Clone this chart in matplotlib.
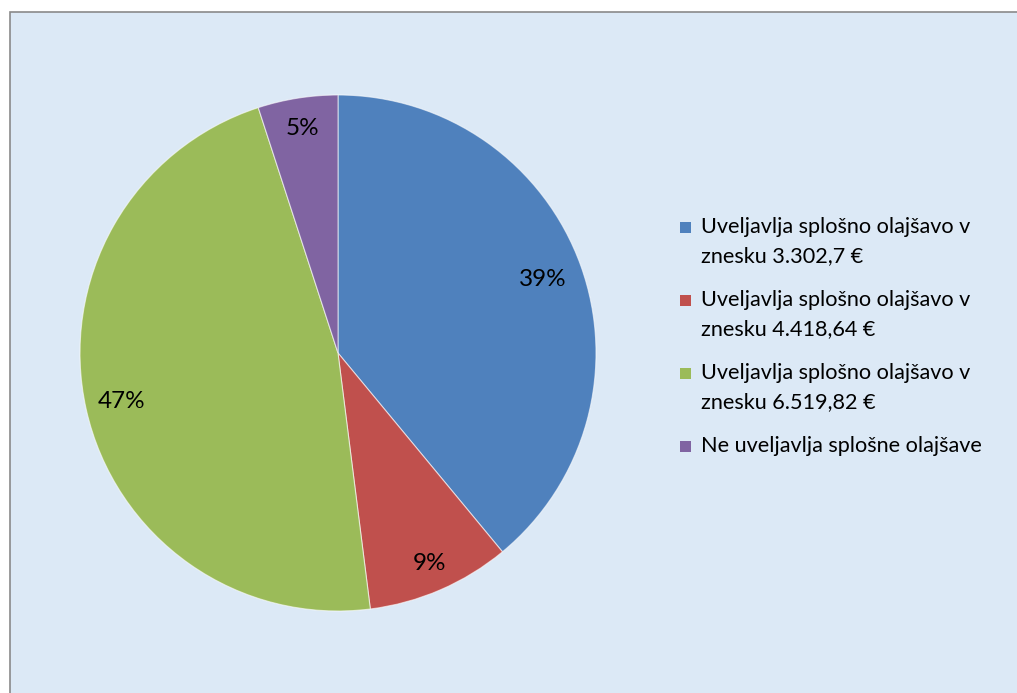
import matplotlib
matplotlib.use("Agg")
import matplotlib.pyplot as plt
from matplotlib.patches import Rectangle

# data
labels = [
    "Uveljavlja splošno olajšavo v\nznesku 3.302,7 €",
    "Uveljavlja splošno olajšavo v\nznesku 4.418,64 €",
    "Uveljavlja splošno olajšavo v\nznesku 6.519,82 €",
    "Ne uveljavlja splošne olajšave",
]
shares = [39, 9, 47, 5]
colors = ["#4F81BD", "#C0504D", "#9BBB59", "#8064A2"]

plt.rcParams['font.family'] = ['Lato', 'DejaVu Sans']

W, H = 1017, 693
fig = plt.figure(figsize=(W / 100, H / 100), dpi=100)
fig.patch.set_facecolor("white")

# chart area with border
bg = Rectangle((9.5 / W, -0.01), 1.02, (H - 11.5) / H + 0.01, transform=fig.transFigure,
               facecolor="#dce9f6", edgecolor="#8a8a8a", linewidth=1.2, zorder=0)
fig.add_artist(bg)

# pie axes (center 338,353 px, radius 258 px)
cx, cy, r = 338, 353, 258
ax = fig.add_axes([(cx - r) / W, (H - cy - r) / H, 2 * r / W, 2 * r / H])
ax.patch.set_alpha(0)

wedges, texts, autotexts = ax.pie(
    shares, colors=colors, startangle=90, counterclock=False, radius=1,
    autopct="%d%%", pctdistance=1.0,
    wedgeprops=dict(edgecolor=(1, 1, 1, 0.6), linewidth=0.8),
    textprops=dict(fontsize=17.5, color="black"),
)
# label distance from centre differs a bit per slice (Excel best fit)
for t, d in zip(autotexts, [0.845, 0.89, 0.86, 0.88]):
    x, y = t.get_position()
    t.set_position((x * d, y * d))
ax.set_xlim(-1, 1)
ax.set_ylim(-1, 1)
ax.axis("off")

# legend, drawn item by item
x_box = 680 / W
x_txt = 701 / W
y0 = 227
line_h = 29
item_gap = 73
for i, (lab, col) in enumerate(zip(labels, colors)):
    y_first = y0 + i * item_gap
    fig.add_artist(Rectangle((x_box, (H - y_first - 5.5) / H), 11 / W, 11 / H,
                             transform=fig.transFigure, facecolor=col, edgecolor="none"))
    for k, line in enumerate(lab.split("\n")):
        fig.text(x_txt, (H - y_first - k * line_h) / H, line, fontsize=15.6,
                 va="center", ha="left", color="black")

fig.savefig("out.png", dpi=100)
